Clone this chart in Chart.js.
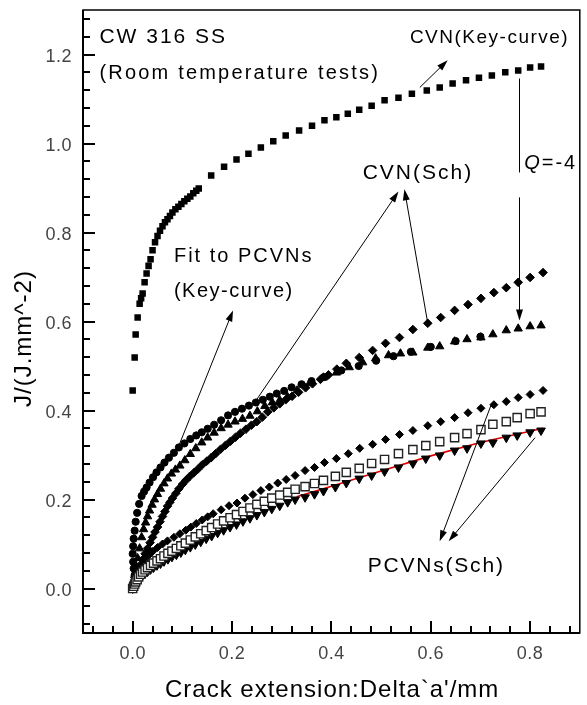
<!DOCTYPE html>
<html>
<head>
<meta charset="utf-8">
<script src="https://cdn.jsdelivr.net/npm/chart.js@4.4.1/dist/chart.umd.min.js"></script>
<style>
  html, body { margin: 0; padding: 0; background: #fff; }
  #wrap { width: 587px; height: 705px; position: relative; }
</style>
</head>
<body>
<div id="wrap"><canvas id="jrChart"></canvas></div>
<script>
  // ── DATA ──
  // CVN (Key-curve), filled squares
  const keyX = [0.000, 0.004, 0.006, 0.010, 0.014, 0.017, 0.020, 0.024, 0.028, 0.032, 0.036, 0.040, 0.045, 0.050, 0.055, 0.060, 0.065, 0.070, 0.075, 0.080, 0.086, 0.092, 0.098, 0.104, 0.110, 0.116, 0.122, 0.128, 0.133, 0.158, 0.184, 0.209, 0.233, 0.258, 0.283, 0.308, 0.335, 0.361, 0.386, 0.410, 0.433, 0.456, 0.481, 0.507, 0.535, 0.562, 0.592, 0.618, 0.644, 0.671, 0.697, 0.723, 0.750, 0.776, 0.800, 0.822];
  const keyY = [0.445, 0.519, 0.571, 0.609, 0.640, 0.652, 0.663, 0.688, 0.708, 0.725, 0.740, 0.760, 0.778, 0.792, 0.804, 0.814, 0.823, 0.830, 0.837, 0.845, 0.852, 0.858, 0.864, 0.870, 0.876, 0.881, 0.888, 0.894, 0.899, 0.928, 0.948, 0.964, 0.977, 0.991, 1.005, 1.018, 1.029, 1.040, 1.052, 1.059, 1.067, 1.076, 1.085, 1.097, 1.103, 1.112, 1.119, 1.126, 1.135, 1.142, 1.148, 1.153, 1.160, 1.164, 1.171, 1.173];

  // Fit to PCVNs (Key-curve), filled circles
  const fitX = [0.004, 0.002, 0.001, 0.000, 0.001, 0.002, 0.004, 0.006, 0.009, 0.013, 0.018, 0.023, 0.028, 0.034, 0.041, 0.048, 0.056, 0.064, 0.073, 0.083, 0.093, 0.104, 0.116, 0.128, 0.139, 0.151, 0.164, 0.178, 0.192, 0.206, 0.220, 0.234, 0.248, 0.262, 0.276, 0.290, 0.305, 0.320, 0.340, 0.360, 0.385, 0.420, 0.455, 0.490, 0.525, 0.560, 0.600, 0.650, 0.700];
  const fitY = [0.030, 0.045, 0.060, 0.078, 0.095, 0.112, 0.130, 0.150, 0.170, 0.190, 0.208, 0.218, 0.227, 0.238, 0.250, 0.261, 0.272, 0.283, 0.294, 0.305, 0.317, 0.326, 0.336, 0.344, 0.351, 0.359, 0.368, 0.378, 0.389, 0.397, 0.404, 0.411, 0.418, 0.424, 0.431, 0.438, 0.444, 0.452, 0.459, 0.466, 0.475, 0.490, 0.500, 0.512, 0.522, 0.532, 0.543, 0.556, 0.566];

  // CVN (Sch), filled up-triangles
  const triX = [0.004, 0.007, 0.010, 0.014, 0.018, 0.022, 0.026, 0.030, 0.034, 0.039, 0.044, 0.050, 0.056, 0.063, 0.070, 0.078, 0.086, 0.095, 0.105, 0.116, 0.127, 0.139, 0.151, 0.164, 0.178, 0.192, 0.206, 0.221, 0.236, 0.251, 0.266, 0.281, 0.296, 0.312, 0.331, 0.356, 0.384, 0.410, 0.436, 0.463, 0.489, 0.515, 0.539, 0.564, 0.594, 0.618, 0.648, 0.673, 0.701, 0.725, 0.752, 0.776, 0.800, 0.822];
  const triY = [0.030, 0.050, 0.068, 0.090, 0.115, 0.133, 0.148, 0.162, 0.175, 0.188, 0.200, 0.212, 0.224, 0.236, 0.247, 0.258, 0.267, 0.276, 0.288, 0.302, 0.315, 0.328, 0.339, 0.350, 0.360, 0.368, 0.375, 0.381, 0.388, 0.398, 0.410, 0.418, 0.423, 0.430, 0.445, 0.461, 0.474, 0.485, 0.497, 0.508, 0.517, 0.524, 0.528, 0.530, 0.541, 0.544, 0.555, 0.560, 0.564, 0.571, 0.580, 0.584, 0.589, 0.591];

  // CVN (Sch), filled diamonds
  const cvnDiaX = [0.006, 0.010, 0.015, 0.020, 0.025, 0.030, 0.035, 0.040, 0.045, 0.050, 0.055, 0.060, 0.065, 0.070, 0.075, 0.080, 0.087, 0.093, 0.100, 0.107, 0.115, 0.123, 0.131, 0.140, 0.149, 0.158, 0.167, 0.177, 0.187, 0.197, 0.207, 0.217, 0.228, 0.239, 0.250, 0.261, 0.272, 0.284, 0.296, 0.308, 0.321, 0.334, 0.348, 0.362, 0.378, 0.394, 0.411, 0.430, 0.456, 0.483, 0.509, 0.537, 0.564, 0.594, 0.620, 0.648, 0.675, 0.701, 0.727, 0.752, 0.776, 0.800, 0.826];
  const cvnDiaY = [0.025, 0.038, 0.052, 0.065, 0.078, 0.090, 0.103, 0.115, 0.127, 0.138, 0.150, 0.162, 0.173, 0.185, 0.194, 0.203, 0.214, 0.224, 0.234, 0.243, 0.252, 0.260, 0.268, 0.278, 0.286, 0.294, 0.303, 0.313, 0.322, 0.331, 0.340, 0.349, 0.358, 0.367, 0.375, 0.385, 0.397, 0.406, 0.415, 0.424, 0.432, 0.441, 0.451, 0.460, 0.470, 0.480, 0.493, 0.506, 0.519, 0.535, 0.551, 0.564, 0.582, 0.596, 0.609, 0.625, 0.638, 0.652, 0.665, 0.676, 0.688, 0.699, 0.710];

  // PCVNs (Sch), filled diamonds
  const pcvDiaX = [0.004, 0.010, 0.016, 0.024, 0.032, 0.040, 0.050, 0.060, 0.070, 0.083, 0.095, 0.107, 0.117, 0.128, 0.140, 0.151, 0.162, 0.178, 0.194, 0.210, 0.226, 0.242, 0.258, 0.275, 0.292, 0.309, 0.327, 0.347, 0.366, 0.386, 0.410, 0.434, 0.457, 0.483, 0.509, 0.537, 0.564, 0.594, 0.620, 0.648, 0.675, 0.701, 0.727, 0.752, 0.776, 0.800, 0.826];
  const pcvDiaY = [0.015, 0.035, 0.048, 0.063, 0.074, 0.083, 0.092, 0.100, 0.107, 0.115, 0.123, 0.131, 0.138, 0.146, 0.154, 0.161, 0.168, 0.177, 0.186, 0.192, 0.203, 0.211, 0.220, 0.228, 0.237, 0.245, 0.254, 0.265, 0.272, 0.283, 0.292, 0.303, 0.315, 0.324, 0.335, 0.346, 0.355, 0.366, 0.375, 0.384, 0.395, 0.405, 0.413, 0.420, 0.429, 0.436, 0.445];

  // PCVNs (Sch), open squares and filled down-triangles (same crack extensions)
  const pcvX = [0.000, 0.002, 0.004, 0.006, 0.009, 0.012, 0.016, 0.020, 0.025, 0.030, 0.036, 0.042, 0.049, 0.056, 0.063, 0.071, 0.079, 0.088, 0.097, 0.106, 0.116, 0.126, 0.137, 0.148, 0.159, 0.171, 0.183, 0.196, 0.209, 0.222, 0.236, 0.250, 0.265, 0.280, 0.296, 0.312, 0.327, 0.347, 0.366, 0.384, 0.408, 0.430, 0.456, 0.481, 0.507, 0.535, 0.564, 0.590, 0.618, 0.648, 0.673, 0.701, 0.725, 0.752, 0.774, 0.800, 0.822];
  const openSqY = [0.000, 0.005, 0.010, 0.015, 0.020, 0.026, 0.032, 0.037, 0.042, 0.047, 0.052, 0.057, 0.062, 0.067, 0.073, 0.079, 0.084, 0.090, 0.096, 0.102, 0.109, 0.116, 0.123, 0.130, 0.137, 0.145, 0.152, 0.159, 0.166, 0.173, 0.181, 0.189, 0.196, 0.203, 0.210, 0.216, 0.223, 0.229, 0.236, 0.243, 0.252, 0.261, 0.270, 0.281, 0.290, 0.303, 0.312, 0.321, 0.330, 0.339, 0.348, 0.357, 0.369, 0.375, 0.384, 0.393, 0.397];
  const downTriY = [0.000, 0.003, 0.007, 0.011, 0.015, 0.020, 0.025, 0.030, 0.034, 0.038, 0.043, 0.047, 0.052, 0.056, 0.061, 0.066, 0.071, 0.076, 0.081, 0.087, 0.093, 0.099, 0.105, 0.112, 0.118, 0.125, 0.131, 0.138, 0.144, 0.151, 0.158, 0.165, 0.172, 0.179, 0.186, 0.194, 0.200, 0.205, 0.212, 0.219, 0.228, 0.237, 0.247, 0.254, 0.263, 0.272, 0.281, 0.292, 0.299, 0.310, 0.315, 0.326, 0.328, 0.339, 0.344, 0.351, 0.355];

  // red fit line, mostly hidden behind the down-triangles
  const redX = [0.330, 0.400, 0.500, 0.600, 0.700, 0.826];
  const redY = [0.206, 0.230, 0.264, 0.298, 0.328, 0.360];

  const xTicks = [0.0, 0.2, 0.4, 0.6, 0.8];
  const yTicks = [0.0, 0.2, 0.4, 0.6, 0.8, 1.0, 1.2];
  const xTitle = "Crack extension:Delta`a'/mm";
  const yTitle = 'J/(J.mm^-2)';

  // ── ANNOTATIONS (data coordinates) ──
  const notes = [
    { t: 'CW 316 SS', x: -0.067, y: 1.225, size: 21, sp: 2 },
    { t: '(Room temperature tests)', x: -0.067, y: 1.146, size: 20, sp: 2.2 },
    { t: 'CVN(Key-curve)', x: 0.558, y: 1.225, size: 19, sp: 1.5 },
    { t: 'CVN(Sch)', x: 0.463, y: 0.921, size: 21, sp: 2 },
    { t: 'Fit to PCVNs', x: 0.083, y: 0.733, size: 20, sp: 2 },
    { t: '(Key-curve)', x: 0.083, y: 0.654, size: 20, sp: 1.5 },
    { t: 'PCVNs(Sch)', x: 0.473, y: 0.038, size: 21, sp: 1.8 }
  ];
  const arrows = [
    [0.578, 1.126, 0.634, 1.187],
    [0.248, 0.422, 0.535, 0.892],
    [0.594, 0.596, 0.547, 0.897],
    [0.093, 0.321, 0.202, 0.625],
    [0.721, 0.411, 0.618, 0.106],
    [0.810, 0.339, 0.636, 0.106]
  ];
  const FONT = "'Liberation Sans', Arial, sans-serif";

  function pts(xs, ys) {
    return xs.map((x, i) => ({ x: x, y: ys[i] }));
  }

  function drawArrow(ctx, x1, y1, x2, y2) {
    const ang = Math.atan2(y2 - y1, x2 - x1);
    const len = 11, half = 3.5;
    ctx.beginPath();
    ctx.moveTo(x1, y1);
    ctx.lineTo(x2 - Math.cos(ang) * len * 0.8, y2 - Math.sin(ang) * len * 0.8);
    ctx.stroke();
    ctx.beginPath();
    ctx.moveTo(x2, y2);
    ctx.lineTo(x2 - Math.cos(ang) * len - Math.sin(ang) * half, y2 - Math.sin(ang) * len + Math.cos(ang) * half);
    ctx.lineTo(x2 - Math.cos(ang) * len + Math.sin(ang) * half, y2 - Math.sin(ang) * len - Math.cos(ang) * half);
    ctx.closePath();
    ctx.fill();
  }

  // ── AXES, TICKS AND NOTES ──
  const frameAndNotes = {
    id: 'frameAndNotes',
    afterDraw(chart) {
      const ctx = chart.ctx;
      const xs = chart.scales.x, ys = chart.scales.y;
      const a = chart.chartArea;
      ctx.save();
      ctx.strokeStyle = '#000';
      ctx.fillStyle = '#000';

      // frame
      ctx.lineWidth = 1.5;
      ctx.strokeRect(a.left, a.top, a.right - a.left, a.bottom - a.top);
      ctx.lineWidth = 2;
      ctx.beginPath();
      ctx.moveTo(a.left, a.top);
      ctx.lineTo(a.left, a.bottom);
      ctx.lineTo(a.right, a.bottom);
      ctx.stroke();

      // inward ticks, minor every 0.04
      ctx.lineWidth = 2;
      ctx.beginPath();
      for (let k = -2; k <= 22; k++) {
        const major = k % 5 === 0;
        const px = Math.round(xs.getPixelForValue(k * 0.04));
        ctx.moveTo(px, a.bottom);
        ctx.lineTo(px, a.bottom - (major ? 12 : 7));
      }
      for (let k = -2; k <= 32; k++) {
        const major = k % 5 === 0;
        const py = Math.round(ys.getPixelForValue(k * 0.04));
        ctx.moveTo(a.left, py);
        ctx.lineTo(a.left + (major ? 12 : 7), py);
      }
      ctx.stroke();

      // tick labels
      ctx.fillStyle = '#444';
      ctx.font = '18px ' + FONT;
      ctx.letterSpacing = '0.5px';
      ctx.textBaseline = 'alphabetic';
      ctx.textAlign = 'center';
      xTicks.forEach(v => ctx.fillText(v.toFixed(1), xs.getPixelForValue(v), a.bottom + 26));
      ctx.textAlign = 'right';
      yTicks.forEach(v => ctx.fillText(v.toFixed(1), a.left - 11, ys.getPixelForValue(v) + 7));

      // axis titles
      ctx.fillStyle = '#000';
      ctx.font = '24px ' + FONT;
      ctx.letterSpacing = '1px';
      ctx.textAlign = 'left';
      ctx.fillText(xTitle, 165, a.bottom + 64);
      ctx.save();
      ctx.translate(31, 407);
      ctx.rotate(-Math.PI / 2);
      ctx.fillText(yTitle, 0, 0);
      ctx.restore();

      // notes
      notes.forEach(n => {
        ctx.font = n.size + 'px ' + FONT;
        ctx.letterSpacing = n.sp + 'px';
        ctx.fillText(n.t, xs.getPixelForValue(n.x), ys.getPixelForValue(n.y));
      });
      // Q=-4 (Q in italics)
      const qx = xs.getPixelForValue(0.788), qy = ys.getPixelForValue(0.942);
      ctx.letterSpacing = '2px';
      ctx.font = 'italic 20px ' + FONT;
      ctx.fillText('Q', qx, qy);
      const qw = ctx.measureText('Q').width;
      ctx.font = '20px ' + FONT;
      ctx.fillText('=-4', qx + qw, qy);
      ctx.letterSpacing = '0px';

      // arrows
      ctx.lineWidth = 1;
      arrows.forEach(r => {
        drawArrow(ctx, xs.getPixelForValue(r[0]), ys.getPixelForValue(r[1]),
                  xs.getPixelForValue(r[2]), ys.getPixelForValue(r[3]));
      });
      // vertical Q line with a gap for its label
      const lx = Math.round(xs.getPixelForValue(0.778)) + 0.5;
      ctx.beginPath();
      ctx.moveTo(lx, ys.getPixelForValue(1.146));
      ctx.lineTo(lx, ys.getPixelForValue(0.935));
      ctx.stroke();
      drawArrow(ctx, lx, ys.getPixelForValue(0.879), lx, ys.getPixelForValue(0.602));

      ctx.restore();
    }
  };

  // ── SCATTER CHART ──
  const ctxJ = document.getElementById('jrChart').getContext('2d');
  new Chart(ctxJ, {
    type: 'scatter',
    data: {
      datasets: [
        { label: 'PCVNs open squares', data: pts(pcvX, openSqY), pointStyle: 'rect', pointRadius: 5.8,
          backgroundColor: '#fff', borderColor: '#222', borderWidth: 1.4, order: 1 },
        { label: 'PCVNs down-triangles', data: pts(pcvX, downTriY), pointStyle: 'triangle', rotation: 180,
          pointRadius: 5, backgroundColor: '#000', borderColor: '#000', borderWidth: 1, order: 2 },
        { label: 'red fit', data: pts(redX, redY), showLine: true, pointRadius: 0,
          borderColor: '#e00000', borderWidth: 1.6, order: 3 },
        { label: 'PCVNs diamonds', data: pts(pcvDiaX, pcvDiaY), pointStyle: 'rectRot', pointRadius: 4,
          backgroundColor: '#000', borderColor: '#000', borderWidth: 1, order: 4 },
        { label: 'CVN(Sch) diamonds', data: pts(cvnDiaX, cvnDiaY), pointStyle: 'rectRot', pointRadius: 4.3,
          backgroundColor: '#000', borderColor: '#000', borderWidth: 1, order: 5 },
        { label: 'CVN(Sch) triangles', data: pts(triX, triY), pointStyle: 'triangle', pointRadius: 4.8,
          backgroundColor: '#000', borderColor: '#000', borderWidth: 1, order: 6 },
        { label: 'Fit to PCVNs', data: pts(fitX, fitY), pointStyle: 'circle', pointRadius: 3.6,
          backgroundColor: '#000', borderColor: '#000', borderWidth: 1, order: 7 },
        { label: 'CVN(Key-curve)', data: pts(keyX, keyY), pointStyle: 'rect', pointRadius: 4.6,
          backgroundColor: '#000', borderColor: '#000', borderWidth: 0, order: 8 }
      ]
    },
    options: {
      responsive: true,
      maintainAspectRatio: false,
      animation: false,
      events: [],
      layout: { padding: { top: 10, right: 2, left: 0, bottom: 0 } },
      plugins: {
        legend: { display: false },
        tooltip: { enabled: false }
      },
      scales: {
        x: {
          type: 'linear', min: -0.1, max: 0.9,
          grid: { display: false }, border: { display: false },
          ticks: { display: false },
          afterFit: s => { s.height = 72; }
        },
        y: {
          type: 'linear', min: -0.1, max: 1.3,
          grid: { display: false }, border: { display: false },
          ticks: { display: false },
          afterFit: s => { s.width = 83; }
        }
      }
    },
    plugins: [frameAndNotes]
  });
</script>
</body>
</html>
